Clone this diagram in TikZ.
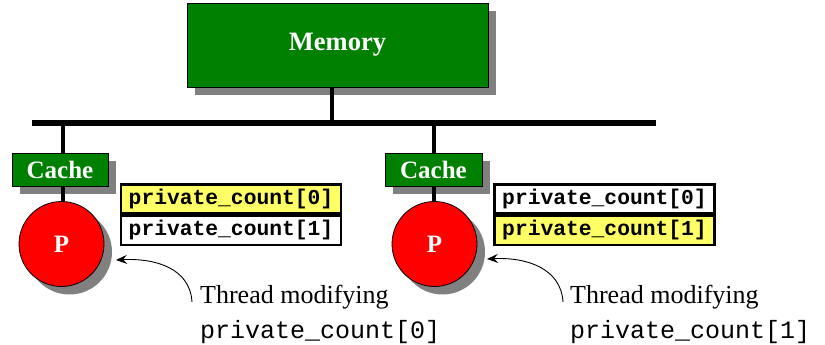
\documentclass[tikz,border=0pt]{standalone}
\usepackage{fontspec}
\setmainfont{Liberation Serif}
\setmonofont{Liberation Mono}
\usetikzlibrary{arrows.meta}
\definecolor{boxgreen}{RGB}{0,128,0}
\definecolor{shadowgray}{RGB}{128,128,128}
\definecolor{cellyellow}{RGB}{255,255,102}
\tikzset{
  shadowed/.style={preaction={fill=shadowgray, transform canvas={shift={(8pt,-8pt)}}}},
  greenbox/.style={shadowed, draw=black, line width=0.8pt, fill=boxgreen, text=white,
    font=\fontsize{25}{27}\selectfont\bfseries, inner sep=0pt},
  proc/.style={shadowed, circle, draw=black, line width=0.8pt, fill=red, text=white,
    minimum size=85pt, inner sep=0pt, font=\fontsize{25}{27}\selectfont\bfseries},
  cell/.style={draw=black, line width=2.4pt, minimum width=220pt, minimum height=29pt,
    inner sep=0pt, font=\fontsize{21.3}{23}\selectfont\ttfamily\bfseries},
  wire/.style={line width=4pt},
  bus/.style={line width=6pt},
  note/.style={anchor=base west, inner sep=0pt, font=\fontsize{26}{28}\selectfont},
  codenote/.style={anchor=base west, inner sep=0pt, font=\fontsize{25}{27}\selectfont\ttfamily},
  pointer/.style={line width=0.9pt, -{Stealth[length=11pt,width=9pt,inset=4pt]}}
}
\begin{document}
\begin{tikzpicture}[x=1pt,y=-1pt]
\useasboundingbox (0,0) rectangle (825,345);

% memory and bus
\node[greenbox, minimum width=301pt, minimum height=84pt,
      font=\fontsize{26.5}{28}\selectfont\bfseries] (mem) at (337.5,45) {Memory};
\coordinate (busL) at (32,123);
\coordinate (busR) at (656,123);
\coordinate (busM) at (332,123);
\coordinate (busA) at (63,123);
\coordinate (busB) at (434,123);
\draw[wire] (mem.south -| busM) -- (busM);
\draw[bus] (busL) -- (busR);

% left processor
\node[greenbox, minimum width=96pt, minimum height=33pt] (cacheA) at (60,169.5) {Cache};
\node[proc] (pA) at (61.5,244) {P};
\draw[wire] (busA) -- (cacheA.north -| busA);
\draw[wire] (cacheA.south -| busA) -- (pA.north -| busA);
\node[cell, fill=cellyellow] (a0) at (231,199) {private\_count[0]};
\node[cell, fill=white, anchor=north] (a1) at (a0.south) {private\_count[1]};

% right processor
\node[greenbox, minimum width=97pt, minimum height=33pt] (cacheB) at (433.5,169.5) {Cache};
\node[proc] (pB) at (434.5,244) {P};
\draw[wire] (busB) -- (cacheB.north -| busB);
\draw[wire] (cacheB.south -| busB) -- (pB.north -| busB);
\node[cell, fill=white] (b0) at (604.5,199) {private\_count[0]};
\node[cell, fill=cellyellow, anchor=north] (b1) at (b0.south) {private\_count[1]};

% annotations
\node[note] (tA) at (200,303) {Thread modifying};
\node[codenote] (cA) at (200,338) {private\_count[0]};
\coordinate (sA) at (192,302);
\coordinate (eA) at (116,260);
\draw[pointer] (sA) .. controls (190,268) and (155,258) .. (eA);

\node[note] (tB) at (570,303) {Thread modifying};
\node[codenote] (cB) at (570,338) {private\_count[1]};
\coordinate (sB) at (563,302);
\coordinate (eB) at (487,259);
\draw[pointer] (sB) .. controls (561,268) and (526,257) .. (eB);
\end{tikzpicture}
\end{document}
